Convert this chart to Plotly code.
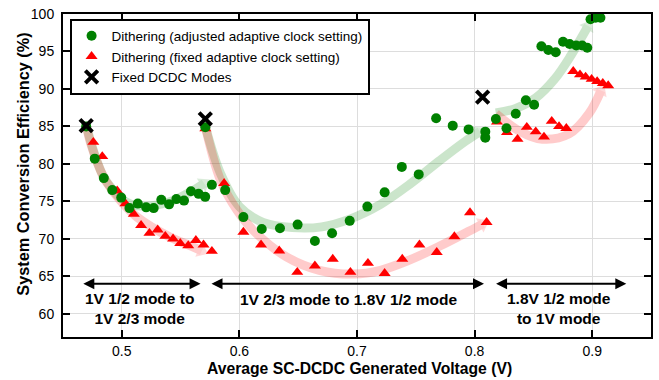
import plotly.graph_objects as go

# ---------------- data ----------------
adj_x = [0.4697, 0.477, 0.4847, 0.4919, 0.4995, 0.5065, 0.5136, 0.5207, 0.5271, 0.5336, 0.5402,
         0.5464, 0.5529, 0.5588, 0.5653, 0.5709, 0.5766,
         0.571, 0.5879, 0.6034, 0.619, 0.6345, 0.6495, 0.6642, 0.6788, 0.6938, 0.7088, 0.7235,
         0.7381, 0.7525, 0.7673, 0.7814, 0.7949, 0.8091, 0.8091,
         0.8181, 0.8271, 0.835, 0.8436, 0.8506, 0.8568, 0.8627, 0.869, 0.8752, 0.8808, 0.8864,
         0.8915, 0.8958, 0.8986, 0.9029, 0.907]
adj_y = [85.0, 80.7, 78.1, 76.5, 75.5, 74.1, 74.7, 74.2, 74.1, 75.2, 74.6,
         75.3, 75.1, 76.35, 76.0, 75.6, 77.2,
         84.9, 76.5, 72.9, 71.3, 71.4, 71.9, 69.7, 70.75, 72.4, 74.3, 76.2,
         79.6, 78.6, 86.1, 85.1, 84.6, 84.3, 83.5,
         86.0, 84.75, 86.7, 88.5, 87.9, 95.7, 95.2, 94.9, 96.3, 96.0, 95.8,
         95.8, 95.5, 99.3, 99.5, 99.5]

fix_x = [0.4758, 0.4834, 0.4961, 0.5031, 0.5102, 0.5164, 0.5235, 0.5305, 0.537, 0.5436,
         0.5497, 0.5565, 0.563, 0.5695, 0.5766,
         0.571, 0.587, 0.6034, 0.6184, 0.6339, 0.6492, 0.6642, 0.6794, 0.6944, 0.7093,
         0.7235, 0.7385, 0.7531, 0.7678, 0.7828, 0.7961, 0.8102,
         0.819, 0.8275, 0.8365, 0.8444, 0.852, 0.859, 0.8656, 0.8718, 0.878, 0.8839,
         0.8896, 0.8944, 0.8995, 0.9042, 0.909, 0.9136]
fix_y = [82.9, 81.0, 76.4, 74.7, 73.3, 71.8, 70.75, 71.2, 70.35, 70.0,
         69.4, 69.1, 69.8, 69.2, 68.35,
         84.7, 77.4, 70.9, 69.2, 68.4, 65.55, 66.4, 67.3, 65.55, 66.75,
         65.4, 67.3, 69.2, 68.2, 70.3, 73.5, 72.2,
         85.6, 84.2, 83.3, 84.9, 84.3, 83.6, 85.7, 85.0, 84.75, 92.35,
         91.9, 91.6, 91.3, 91.0, 90.75, 90.45]

mode_x = [0.4697, 0.571, 0.8068]
mode_y = [85.1, 86.0, 88.9]

# trend arrows (path points)
g_arrows = [
    ([0.470, 0.477, 0.4847, 0.4905, 0.499, 0.508, 0.525, 0.545, 0.560, 0.570],
     [85.0, 81.2, 78.2, 76.9, 75.4, 74.6, 74.4, 75.2, 76.4, 77.4]),
    ([0.571, 0.584, 0.600, 0.620, 0.645, 0.670, 0.695, 0.720, 0.745, 0.770, 0.792, 0.8045],
     [85.0, 78.7, 74.3, 72.2, 71.5, 71.6, 72.7, 74.6, 77.3, 80.4, 83.0, 84.3]),
    ([0.818, 0.835, 0.852, 0.868, 0.882, 0.8965],
     [86.8, 87.4, 88.8, 91.3, 94.5, 98.4]),
]
r_arrows = [
    ([0.470, 0.4736, 0.4847, 0.4989, 0.513, 0.5413, 0.5580, 0.568],
     [85.0, 82.7, 78.2, 75.1, 72.9, 70.2, 69.1, 68.4]),
    ([0.571, 0.584, 0.598, 0.612, 0.640, 0.668, 0.697, 0.720, 0.745, 0.770, 0.795, 0.807],
     [85.0, 77.8, 73.8, 71.1, 67.6, 65.8, 65.3, 65.8, 67.2, 69.0, 71.0, 72.0]),
    ([0.8181, 0.8379, 0.8576, 0.8803, 0.8972, 0.9075],
     [86.7, 84.4, 83.3, 84.0, 86.7, 89.8]),
]

range_x0 = [0.466, 0.575, 0.817]
range_x1 = [0.567, 0.808, 0.929]
range_y = 64.0
range_labels = ["1V 1/2 mode to<br>1V 2/3 mode", "1V 2/3 mode to 1.8V 1/2 mode",
                "1.8V 1/2 mode<br>to 1V mode"]
label_x = [0.5148, 0.6925, 0.8716]
label_y = [60.65, 61.9, 60.65]

x_ticks = [0.5, 0.6, 0.7, 0.8, 0.9]
y_ticks = [60, 65, 70, 75, 80, 85, 90, 95, 100]

FONT = "Liberation Sans, Arial, sans-serif"

fig = go.Figure()

def add_arrow(xs, ys, color):
    n = len(xs)
    fig.add_trace(go.Scatter(
        x=xs, y=ys, mode="lines+markers",
        line=dict(color=color, width=9, shape="spline", smoothing=1),
        marker=dict(symbol="triangle-up", size=[0] * (n - 1) + [14], color=color,
                    angleref="previous", line=dict(width=0)),
        opacity=0.2, showlegend=False, hoverinfo="skip"))

for xs, ys in g_arrows:
    add_arrow(xs, ys, "green")
for xs, ys in r_arrows:
    add_arrow(xs, ys, "red")

fig.add_trace(go.Scatter(
    x=fix_x, y=fix_y, mode="markers", name="Dithering (fixed adaptive clock setting)",
    marker=dict(symbol="triangle-up", size=10.5, color="red", line=dict(width=0)),
    legendrank=2))
fig.add_trace(go.Scatter(
    x=adj_x, y=adj_y, mode="markers", name="Dithering (adjusted adaptive clock setting)",
    marker=dict(symbol="circle", size=10, color="green", line=dict(width=0)),
    legendrank=1))
fig.add_trace(go.Scatter(
    x=mode_x, y=mode_y, mode="markers", name="Fixed DCDC Modes",
    marker=dict(symbol="x-thin", size=12.5, color="black", line=dict(width=4, color="black")),
    legendrank=3))

annotations = []
for x0, x1 in zip(range_x0, range_x1):
    annotations.append(dict(
        x=x1, y=range_y, ax=x0, ay=range_y, xref="x", yref="y", axref="x", ayref="y",
        text="", showarrow=True, arrowhead=2, startarrowhead=2, arrowside="end+start",
        arrowwidth=2, arrowsize=1.1, startarrowsize=1.1, arrowcolor="black", standoff=0,
        startstandoff=0))
for t, lx, ly in zip(range_labels, label_x, label_y):
    annotations.append(dict(
        x=lx, y=ly, xref="x", yref="y", text="<b>" + t + "</b>", showarrow=False,
        font=dict(family=FONT, size=15.5, color="black"), align="center",
        xanchor="center", yanchor="middle"))
annotations.append(dict(
    x=0.504, y=-0.097, xref="paper", yref="paper", showarrow=False,
    text="<b>Average SC-DCDC Generated Voltage (V)</b>",
    font=dict(family=FONT, size=15.7, color="black"), xanchor="center", yanchor="middle"))
annotations.append(dict(
    x=-0.0695, y=0.534, xref="paper", yref="paper", showarrow=False, textangle=-90,
    text="<b>System Conversion Efficiency (%)</b>",
    font=dict(family=FONT, size=16.3, color="black"), xanchor="center", yanchor="middle"))

axis_common = dict(
    showline=True, linewidth=2, linecolor="black", mirror="ticks",
    ticks="inside", ticklen=7, tickwidth=1.5, tickcolor="black",
    showgrid=True, gridcolor="#dddddd", gridwidth=1, zeroline=False,
    tickfont=dict(family=FONT, size=14, color="black"))

fig.update_xaxes(range=[0.45, 0.95], tickvals=x_ticks,
                 ticktext=[str(v) for v in x_ticks], **axis_common)
fig.update_yaxes(range=[56.9, 100], tickvals=y_ticks,
                 ticktext=[str(v) for v in y_ticks], ticklabelstandoff=4, **axis_common)

fig.update_layout(
    width=659, height=380,
    margin=dict(l=63, r=6, t=13, b=43),
    paper_bgcolor="white", plot_bgcolor="white",
    font=dict(family=FONT, size=14, color="black"),
    showlegend=True,
    legend=dict(x=0.0112, y=0.986, xanchor="left", yanchor="top",
                bgcolor="white", bordercolor="black", borderwidth=2,
                font=dict(family=FONT, size=13.5, color="black"),
                itemsizing="trace", tracegroupgap=0),
    annotations=annotations,
)

fig.write_html("out.html")
